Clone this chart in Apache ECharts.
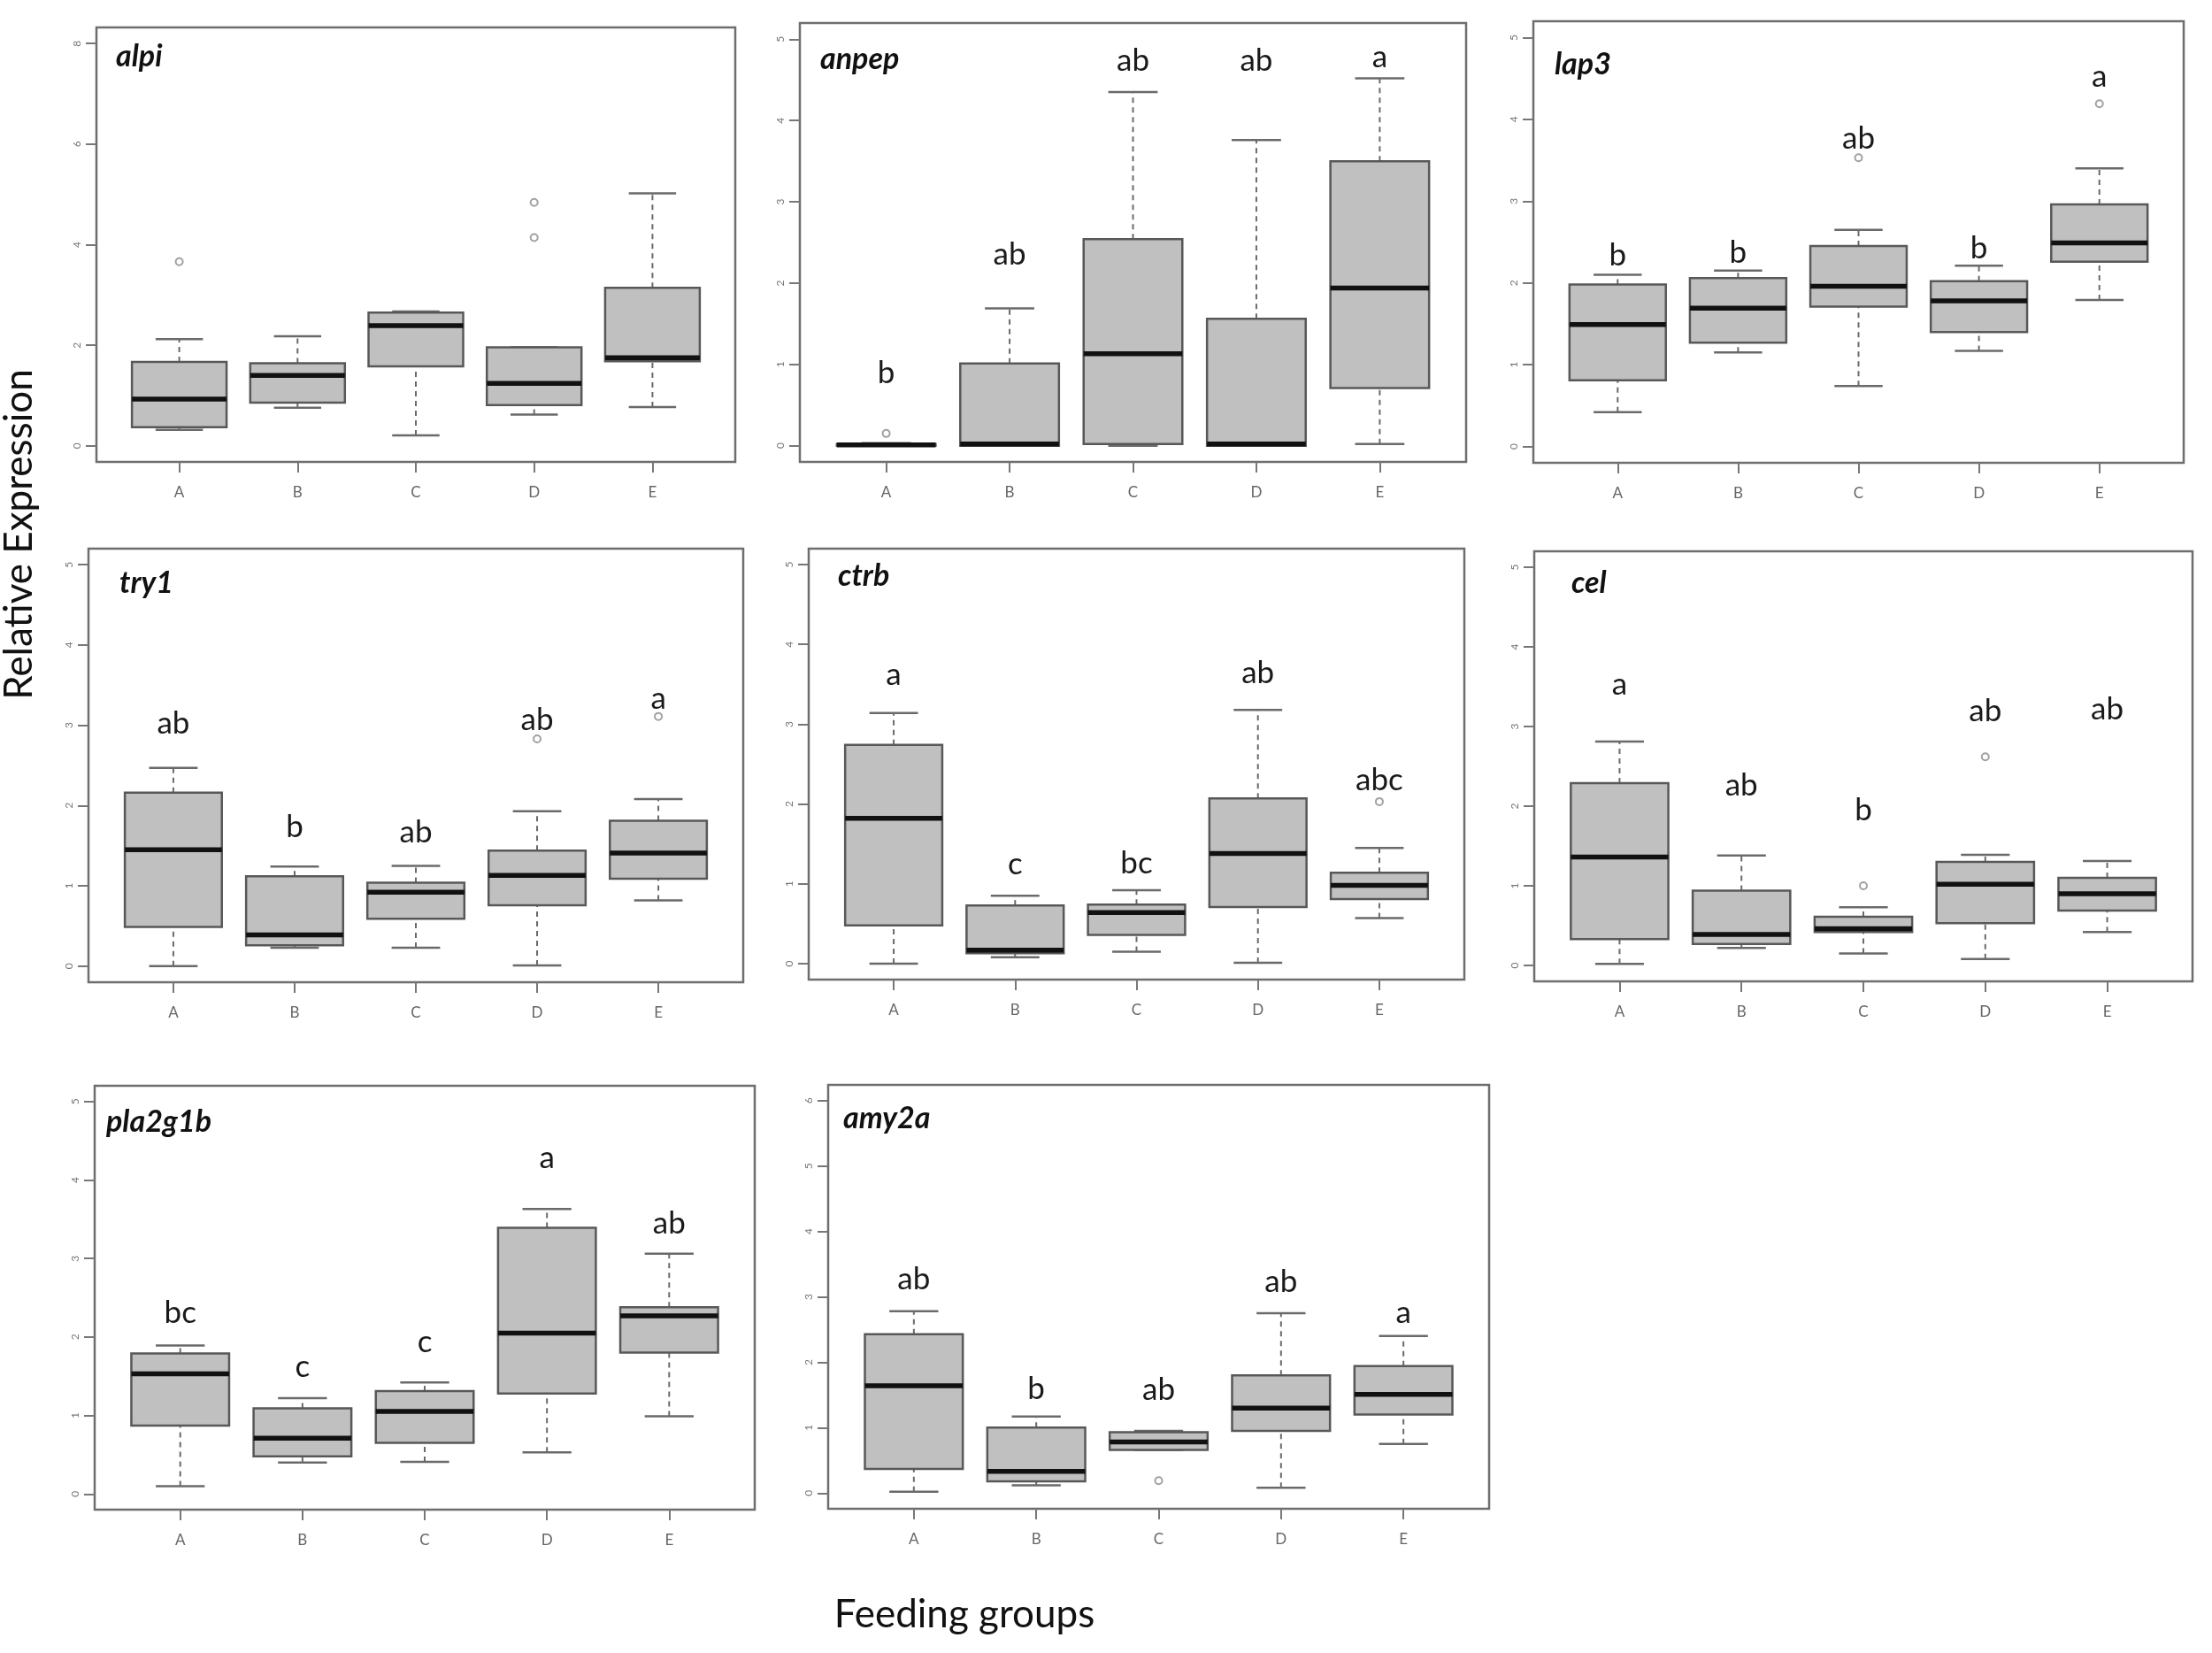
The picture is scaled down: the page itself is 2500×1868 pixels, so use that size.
<!DOCTYPE html>
<html>
<head>
<meta charset="utf-8">
<script src="https://cdn.jsdelivr.net/npm/echarts@6/dist/echarts.min.js"></script>
<style>
html,body{margin:0;padding:0;background:#fff;}
#chart{width:2500px;height:1868px;}
</style>
</head>
<body>
<div id="chart"></div>
<script>
// ---------------- data ----------------
const groups = ['A', 'B', 'C', 'D', 'E'];
const genes = ['alpi', 'anpep', 'lap3', 'try1', 'ctrb', 'cel', 'pla2g1b', 'amy2a'];
const yMaxTicks = [8, 5, 5, 5, 5, 5, 5, 6];
const yTickStep = [2, 1, 1, 1, 1, 1, 1, 1];

// box stats per group: [lower whisker, Q1, median, Q3, upper whisker]
const alpiStats = [[0.32,0.37,0.93,1.67,2.12],[0.76,0.86,1.40,1.64,2.18],[0.21,1.58,2.39,2.65,2.67],[0.62,0.81,1.24,1.96,1.96],[0.77,1.68,1.75,3.14,5.02]];
const anpepStats = [[0,0,0.01,0.02,0.03],[0,0,0.02,1.01,1.69],[0,0.02,1.13,2.54,4.35],[0,0,0.02,1.56,3.76],[0.02,0.71,1.94,3.50,4.52]];
const lap3Stats = [[0.42,0.81,1.49,1.98,2.10],[1.15,1.27,1.69,2.06,2.15],[0.74,1.71,1.96,2.45,2.65],[1.17,1.40,1.78,2.02,2.21],[1.79,2.26,2.49,2.96,3.40]];
const try1Stats = [[0,0.49,1.45,2.16,2.47],[0.23,0.26,0.39,1.12,1.24],[0.23,0.59,0.92,1.04,1.25],[0.01,0.76,1.13,1.44,1.93],[0.82,1.09,1.41,1.81,2.08]];
const ctrbStats = [[0,0.48,1.82,2.74,3.14],[0.08,0.13,0.17,0.73,0.85],[0.15,0.36,0.64,0.74,0.92],[0.01,0.71,1.38,2.07,3.18],[0.57,0.81,0.98,1.14,1.45]];
const celStats = [[0.02,0.33,1.36,2.29,2.81],[0.22,0.27,0.39,0.94,1.38],[0.15,0.42,0.46,0.61,0.73],[0.08,0.53,1.02,1.30,1.39],[0.42,0.69,0.90,1.10,1.31]];
const pla2g1bStats = [[0.10,0.87,1.53,1.79,1.89],[0.40,0.48,0.71,1.09,1.22],[0.41,0.65,1.05,1.31,1.42],[0.53,1.28,2.05,3.39,3.63],[0.99,1.80,2.27,2.38,3.06]];
const amy2aStats = [[0.02,0.37,1.64,2.43,2.78],[0.12,0.18,0.33,1.00,1.17],[0.66,0.66,0.78,0.93,0.95],[0.08,0.95,1.30,1.80,2.75],[0.75,1.20,1.51,1.94,2.40]];

// outliers: [group, value]
const alpiOutliers = [['A',3.66],['D',4.14],['D',4.84]];
const anpepOutliers = [['A',0.15]];
const lap3Outliers = [['C',3.53],['E',4.19]];
const try1Outliers = [['D',2.83],['E',3.11]];
const ctrbOutliers = [['E',2.03]];
const celOutliers = [['C',1.00],['D',2.62]];
const pla2g1bOutliers = [];
const amy2aOutliers = [['C',0.19]];

// significance letters per group and the height they sit at
const alpiLetters = [];
const alpiLetterY = [];
const anpepLetters = ['b','ab','ab','ab','a'];
const anpepLetterY = [0.89,2.35,4.73,4.73,4.78];
const lap3Letters = ['b','b','ab','b','a'];
const lap3LetterY = [2.33,2.37,3.76,2.42,4.52];
const try1Letters = ['ab','b','ab','ab','a'];
const try1LetterY = [3.02,1.73,1.67,3.07,3.33];
const ctrbLetters = ['a','c','bc','ab','abc'];
const ctrbLetterY = [3.62,1.24,1.26,3.64,2.30];
const celLetters = ['a','ab','b','ab','ab'];
const celLetterY = [3.52,2.26,1.95,3.19,3.21];
const pla2g1bLetters = ['bc','c','c','a','ab'];
const pla2g1bLetterY = [2.31,1.62,1.93,4.28,3.44];
const amy2aLetters = ['ab','b','ab','ab','a'];
const amy2aLetterY = [3.27,1.59,1.57,3.23,2.76];

const allStats = [alpiStats, anpepStats, lap3Stats, try1Stats, ctrbStats, celStats, pla2g1bStats, amy2aStats];
const allOutliers = [alpiOutliers, anpepOutliers, lap3Outliers, try1Outliers, ctrbOutliers, celOutliers, pla2g1bOutliers, amy2aOutliers];
const allLetters = [alpiLetters, anpepLetters, lap3Letters, try1Letters, ctrbLetters, celLetters, pla2g1bLetters, amy2aLetters];
const allLetterY = [alpiLetterY, anpepLetterY, lap3LetterY, try1LetterY, ctrbLetterY, celLetterY, pla2g1bLetterY, amy2aLetterY];

// ---------------- layout (pixels) ----------------
const frames = [
  [109, 31, 722, 491],
  [904, 26, 753, 496],
  [1733, 24, 735, 499],
  [100, 620, 740, 490],
  [914, 620, 741, 487],
  [1734, 623, 744, 486],
  [107, 1227, 746, 479],
  [936, 1226, 747, 479]
];
const titlePos = [
  [126, 42], [922, 45], [1752, 51],
  [130, 637], [942, 629], [1771, 637],
  [115, 1246], [948, 1242]
];

const FONT = 'Lato, "Open Sans", sans-serif';

const grid = [], xAxis = [], yAxis = [], series = [], title = [];

genes.forEach((g, i) => {
  const f = frames[i];
  grid.push({ left: f[0], top: f[1], width: f[2], height: f[3], show: true,
              borderColor: '#6e6e6e', borderWidth: 2.5, backgroundColor: '#fff' });
  const ticks = [];
  for (let t = 0; t <= yMaxTicks[i]; t += yTickStep[i]) ticks.push(t);
  const ext = yMaxTicks[i] * 0.04;
  xAxis.push({
    type: 'value', gridIndex: i, min: 0.3, max: 5.7, position: 'bottom',
    splitLine: { show: false }, axisLine: { show: false, onZero: false },
    axisTick: { show: true, length: 12, lineStyle: { color: '#777', width: 2 }, customValues: [1,2,3,4,5] },
    axisLabel: { show: true, customValues: [1,2,3,4,5], formatter: v => groups[Math.round(v) - 1] || '',
                 color: '#666', fontSize: 17, fontFamily: FONT, margin: 26 }
  });
  yAxis.push({
    type: 'value', gridIndex: i, min: -ext, max: yMaxTicks[i] + ext, position: 'left',
    splitLine: { show: false }, axisLine: { show: false, onZero: false },
    axisTick: { show: true, length: 12, lineStyle: { color: '#777', width: 2 }, customValues: ticks },
    axisLabel: { show: true, customValues: ticks, rotate: 90, color: '#777', fontSize: 12,
                 fontFamily: FONT, margin: 16, formatter: v => String(v) }
  });
  title.push({ text: g, left: titlePos[i][0], top: titlePos[i][1],
               textStyle: { fontSize: 34, fontWeight: 'bold', fontStyle: 'italic', color: '#111', fontFamily: FONT } });

  // boxes
  series.push({
    type: 'custom', xAxisIndex: i, yAxisIndex: i,
    data: allStats[i].map((s, k) => [k + 1].concat(s)),
    encode: { x: 0, y: [1, 2, 3, 4, 5] },
    renderItem: function (params, api) {
      const x = api.value(0);
      const pLow = api.coord([x, api.value(1)]);
      const pQ1 = api.coord([x, api.value(2)]);
      const pMed = api.coord([x, api.value(3)]);
      const pQ3 = api.coord([x, api.value(4)]);
      const pHigh = api.coord([x, api.value(5)]);
      const w = api.size([0.8, 0])[0];
      const cw = w / 2;
      const cx = pMed[0];
      const whisk = { stroke: '#6a6a6a', lineWidth: 2, lineDash: [6, 5] };
      const cap = { stroke: '#6a6a6a', lineWidth: 2.5 };
      return {
        type: 'group',
        children: [
          { type: 'line', shape: { x1: cx, y1: pLow[1], x2: cx, y2: pQ1[1] }, style: whisk },
          { type: 'line', shape: { x1: cx, y1: pQ3[1], x2: cx, y2: pHigh[1] }, style: whisk },
          { type: 'line', shape: { x1: cx - cw / 2, y1: pLow[1], x2: cx + cw / 2, y2: pLow[1] }, style: cap },
          { type: 'line', shape: { x1: cx - cw / 2, y1: pHigh[1], x2: cx + cw / 2, y2: pHigh[1] }, style: cap },
          { type: 'rect', shape: { x: cx - w / 2, y: pQ3[1], width: w, height: pQ1[1] - pQ3[1] },
            style: { fill: '#c0c0c0', stroke: '#585858', lineWidth: 2.5 } },
          { type: 'line', shape: { x1: cx - w / 2, y1: pMed[1], x2: cx + w / 2, y2: pMed[1] },
            style: { stroke: '#111', lineWidth: 5.5 } }
        ]
      };
    },
    z: 2
  });

  // outliers
  series.push({
    type: 'scatter', xAxisIndex: i, yAxisIndex: i,
    data: allOutliers[i].map(o => [groups.indexOf(o[0]) + 1, o[1]]),
    symbol: 'emptyCircle', symbolSize: 8,
    itemStyle: { color: '#8a8a8a', borderWidth: 1.8, borderColor: '#8a8a8a' },
    z: 3
  });

  // significance letters
  series.push({
    type: 'custom', xAxisIndex: i, yAxisIndex: i,
    data: allLetters[i].map((L, k) => [k + 1, allLetterY[i][k], L]),
    encode: { x: 0, y: 1 },
    renderItem: function (params, api) {
      const p = api.coord([api.value(0), api.value(1)]);
      return { type: 'text', x: p[0], y: p[1],
               style: { text: api.value(2), fill: '#1a1a1a', fontSize: 35, fontFamily: FONT,
                        align: 'center', verticalAlign: 'middle' } };
    },
    z: 4
  });
});

const chart = echarts.init(document.getElementById('chart'), null, { renderer: 'canvas' });
chart.setOption({
  backgroundColor: '#fff',
  animation: false,
  title: title,
  grid: grid,
  xAxis: xAxis,
  yAxis: yAxis,
  series: series,
  graphic: [
    { type: 'text', x: 22, y: 604, rotation: Math.PI / 2,
      style: { text: 'Relative Expression', fontSize: 44, fontFamily: FONT, fill: '#111',
               align: 'center', verticalAlign: 'middle' } },
    { type: 'text', x: 1090, y: 1825,
      style: { text: 'Feeding groups', fontSize: 44, fontFamily: FONT, fill: '#111',
               align: 'center', verticalAlign: 'middle' } }
  ]
});
</script>
</body>
</html>
